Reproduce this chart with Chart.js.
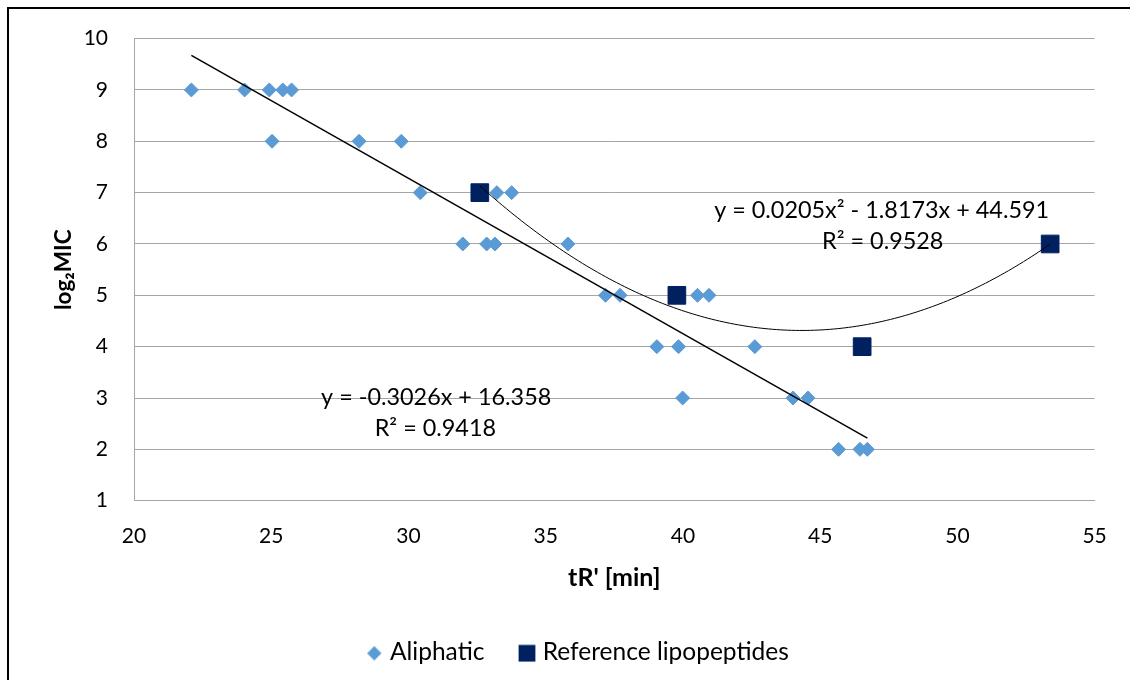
<!DOCTYPE html>
<html><head><meta charset="utf-8">
<script src="https://cdn.jsdelivr.net/npm/chart.js@4"></script>
<style>
html,body{margin:0;padding:0;width:1130px;height:680px;overflow:hidden;background:#fff;}
#frame{position:absolute;left:7px;top:7px;width:1200px;height:800px;border:2px solid #000;box-sizing:border-box;}
#wrap{position:absolute;left:0;top:0;width:1130px;height:680px;}
</style></head><body>
<div id="frame"></div>
<div id="wrap"><canvas id="c" width="1130" height="680"></canvas></div>
<script>
// ---- data ----
const seriesNames = ['Aliphatic', 'Reference lipopeptides'];
const aliphaticX = [22.09, 24.03, 24.93, 25.42, 25.74, 25.03, 28.2, 29.74, 30.43, 33.22, 33.76, 31.98, 32.85, 33.15, 35.81, 37.18, 37.71, 40.53, 40.95, 39.05, 39.84, 42.62, 39.99, 44.01, 44.56, 45.67, 46.45, 46.72];
const aliphaticY = [9, 9, 9, 9, 9, 8, 8, 8, 7, 7, 7, 6, 6, 6, 6, 5, 5, 5, 5, 4, 4, 4, 3, 3, 3, 2, 2, 2];
const refX = [32.6, 39.78, 46.53, 53.38];
const refY = [7, 5, 4, 6];
const linCoef = [16.358, -0.3026];          // y = c0 + c1 x
const polyCoef = [44.591, -1.8173, 0.0205]; // y = c0 + c1 x + c2 x^2
const xTicks = [20, 25, 30, 35, 40, 45, 50, 55];
const yTicks = [1, 2, 3, 4, 5, 6, 7, 8, 9, 10];
const eqTexts = ['y = -0.3026x + 16.358', 'R² = 0.9418', 'y = 0.0205x² - 1.8173x + 44.591', 'R² = 0.9528'];
const eqAnchorX = [31.01, 30.98, 47.24, 47.28];
const eqAnchorY = [3.008, 2.416, 6.66, 6.048];

// ---- helpers ----
const polyVal = (c, x) => c.reduce((s, a, i) => s + a * Math.pow(x, i), 0);
const aliphatic = aliphaticX.map((x, i) => ({x, y: aliphaticY[i]}));
const reference = refX.map((x, i) => ({x, y: refY[i]}));
const aMin = Math.min(...aliphaticX), aMax = Math.max(...aliphaticX);
const linPts = [aMin, aMax].map(x => ({x, y: polyVal(linCoef, x)}));
const rMin = Math.min(...refX), rMax = Math.max(...refX);
const polyPts = [];
for (let i = 0; i <= 150; i++) { const x = rMin + (rMax - rMin) * i / 150; polyPts.push({x, y: polyVal(polyCoef, x)}); }

const BLUE = '#5B9BD5', NAVY = '#002060', GRID = '#a6a6a6';

function makeImg(kind) {
  const c = document.createElement('canvas');
  const g = c.getContext('2d');
  c.width = 20; c.height = 20;
  if (kind === 'diamond') {
    g.fillStyle = BLUE; g.beginPath();
    const cx = 10, cy = 11, r = 7.15;
    g.moveTo(cx, cy - r); g.lineTo(cx + r, cy); g.lineTo(cx, cy + r); g.lineTo(cx - r, cy); g.closePath(); g.fill();
  } else {
    g.fillStyle = NAVY; g.fillRect(1.6, 2.6, 16.8, 16.8);
  }
  return c;
}
const legendImgs = [makeImg('diamond'), makeImg('square')];

const eqPlugin = {
  id: 'eqLabels',
  afterDatasetsDraw(chart) {
    const {ctx, scales: {x, y}} = chart;
    ctx.save();
    ctx.font = '23.4px Lato';
    ctx.fillStyle = '#000';
    ctx.textAlign = 'center';
    ctx.textBaseline = 'middle';
    eqTexts.forEach((t, i) => ctx.fillText(t, x.getPixelForValue(eqAnchorX[i]), y.getPixelForValue(eqAnchorY[i])));
    ctx.restore();
  }
};

Chart.defaults.color = '#000';
Chart.defaults.font.family = 'Lato';

new Chart(document.getElementById('c'), {
  type: 'scatter',
  data: {
    datasets: [
      {label: 'lin', data: linPts, showLine: true, borderColor: '#000', borderWidth: 1.5, pointRadius: 0, order: 0},
      {label: 'poly', data: polyPts, showLine: true, borderColor: '#000', borderWidth: 1, pointRadius: 0, order: 0, tension: 0},
      {label: seriesNames[0], data: aliphatic, pointStyle: 'rectRot', pointRadius: 7, pointBorderWidth: 1, backgroundColor: BLUE, borderColor: BLUE, order: 1},
      {label: seriesNames[1], data: reference, pointStyle: 'rect', pointRadius: 12.5, pointBorderWidth: 1, backgroundColor: NAVY, borderColor: NAVY, order: 2}
    ]
  },
  options: {
    responsive: false,
    animation: false,
    events: [],
    layout: {padding: {left: 60.55, right: 31, top: 37.3, bottom: 5.45}},
    plugins: {
      tooltip: {enabled: false},
      legend: {
        position: 'bottom',
        labels: {
          usePointStyle: true,
          pointStyleWidth: 7,
          padding: 39.05,
          color: '#000',
          font: {family: 'Lato', size: 24.5},
          generateLabels: () => seriesNames.map((t, i) => ({
            text: t, pointStyle: legendImgs[i], fillStyle: i ? NAVY : BLUE, strokeStyle: i ? NAVY : BLUE,
            lineWidth: 0, hidden: false, datasetIndex: i + 2, fontColor: '#000'
          }))
        }
      }
    },
    scales: {
      x: {
        type: 'linear', min: 20, max: 55,
        afterFit: s => { s.height = 100.3; },
        afterBuildTicks: s => { s.ticks = xTicks.map(v => ({value: v})); },
        ticks: {padding: 23.2, font: {family: 'Lato', size: 21}, color: '#000'},
        grid: {display: false, drawTicks: false},
        border: {display: true, color: GRID, width: 1},
        title: {display: true, text: "tR' [min]", font: {family: 'Lato', size: 25, weight: 'bold'}, color: '#000', padding: {top: 0, bottom: 8}}
      },
      y: {
        type: 'linear', min: 1, max: 10,
        afterFit: s => { s.width = 73.45; },
        afterBuildTicks: s => { s.ticks = yTicks.map(v => ({value: v})); },
        ticks: {padding: 26, font: {family: 'Lato', size: 21}, color: '#000'},
        grid: {display: true, drawTicks: false, color: GRID, lineWidth: 1},
        border: {display: true, color: GRID, width: 1},
        title: {display: true, text: 'log₂MIC', font: {family: 'Lato', size: 22.5, weight: 'bold'}, color: '#000', padding: {top: -10.05, bottom: 0}}
      }
    }
  },
  plugins: [eqPlugin]
});
</script>
</body></html>
